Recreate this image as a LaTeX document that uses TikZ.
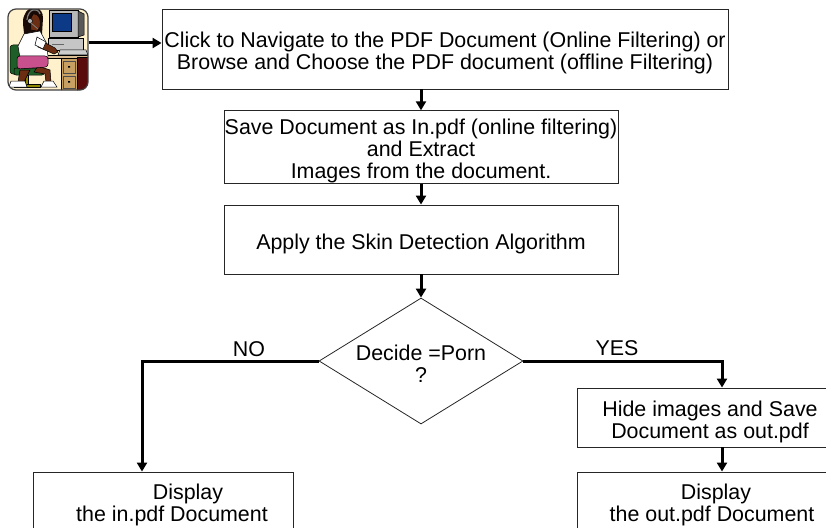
\documentclass[tikz,border=0pt]{standalone}
\usepackage{fontspec}
\setmainfont{Liberation Sans}
\usetikzlibrary{arrows.meta,shapes.geometric}
\definecolor{iconbg}{HTML}{FFF1CC}
\definecolor{skin}{HTML}{6B2E12}
\definecolor{hair}{HTML}{1A0A05}
\definecolor{skirt}{HTML}{C8508C}
\definecolor{chairgreen}{HTML}{1E5E28}
\definecolor{desktan}{HTML}{C9A063}
\definecolor{darkpanel}{HTML}{5A0C0C}
\definecolor{mongray}{HTML}{B8B8B8}
\definecolor{screenblue}{HTML}{0D3A86}
\newcommand{\tup}{\rule{0pt}{24pt}}
\begin{document}
\begin{tikzpicture}[x=1pt,y=-1pt,
  txt/.style={font=\fontsize{21.4pt}{22pt}\selectfont},
  box/.style={txt, draw=black!85, line width=0.9pt, rectangle, inner sep=0pt, align=center},
  decbox/.style={txt, draw=black!85, line width=0.8pt, diamond, aspect=1.62, inner sep=0pt,
    minimum width=204pt, minimum height=126pt, align=center},
  arr/.style={line width=3pt, -{Triangle[length=9pt,width=10pt]}},
  outl/.style={draw=black, line width=0.5pt},
  iconframe/.style={draw=black!75, line width=1.2pt, rounded corners=8pt, minimum width=80pt, minimum height=81pt, inner sep=0pt}]
\useasboundingbox (0,0) rectangle (826,527);
\clip (0,0) rectangle (826,527);

% ---------- icon (person at computer) ----------
\begin{scope}
  \clip[rounded corners=8pt] (8,9) rectangle (88,90);
  \fill[iconbg] (8,9) rectangle (88,90);
  % monitor
  \fill[mongray, outl] (49,10) rectangle (78,37);
  \fill[gray!70!black, outl] (78,11) -- (84,14) -- (84,35) -- (78,37) -- cycle;
  \fill[screenblue, outl] (52,13) rectangle (71,31);
  % computer base
  \fill[mongray!80, outl] (48,38) rectangle (83,50);
  \draw[black!60, line width=0.4pt] (52,44) -- (64,44);
  % keyboard
  \fill[gray!40, outl] (60,50) -- (86,50) -- (88,55) -- (58,55) -- cycle;
  % desk top
  \fill[desktan!70, outl] (44,55) rectangle (88,58);
  % drawers
  \fill[desktan, outl] (61,58) rectangle (77,92);
  \draw[black!70, line width=0.5pt] (63,61) rectangle (75,73) (63,76) rectangle (75,88);
  \fill[black] (68,66) rectangle (70,67.5) (68,81) rectangle (70,82.5);
  % dark side panel
  \fill[darkpanel, outl] (77,57) rectangle (89,92);
  % chair
  \fill[chairgreen, outl, rounded corners=3pt] (10,45) rectangle (22,74);
  \fill[chairgreen, outl, rounded corners=2pt] (14,68) rectangle (44,75);
  \fill[olive, outl] (25,75) rectangle (28,84);
  \fill[olive, outl] (14,84) rectangle (40,87);
  % hair (behind)
  \fill[hair] (26,12) .. controls (32,4) and (43,7) .. (43,18) -- (42,34) -- (25,42) -- (23,24) .. controls (23,18) .. (26,12);
  % legs
  \fill[skin, outl] (38,66) -- (50,70) -- (51,82) -- (46,82) -- (45,74) -- (34,72) -- cycle;
  \fill[skin, outl] (20,70) -- (30,70) -- (24,82) -- (18,82) -- cycle;
  % shoes
  \fill[white, outl] (44,81) -- (53,81) -- (57,87) -- (41,87) -- cycle;
  \fill[white, outl] (11,81) -- (25,81) -- (27,87) -- (9,87) -- cycle;
  % shirt
  \fill[white, outl] (24,34) -- (40,31) -- (47,44) -- (48,58) -- (20,58) -- (18,46) -- cycle;
  % arm
  \fill[skin, outl] (40,40) -- (55,48) -- (58,52) -- (54,54) -- (38,47) -- cycle;
  \fill[white, outl] (37,37) -- (46,42) -- (43,49) -- (35,45) -- cycle;
  % skirt
  \fill[skirt, outl, rounded corners=3pt] (17,56) -- (48,56) -- (48,67) -- (17,69) -- cycle;
  % face
  \fill[skin, outl] (33,14) .. controls (40,14) and (41,20) .. (40,27) -- (37,31) -- (31,30) -- (30,20) -- cycle;
  % headset
  \draw[gray, line width=1.2pt] (27,20) .. controls (28,8) and (38,7) .. (40,14);
  \fill[gray!60, outl] (30,21) circle (2.5pt);
  \draw[gray, line width=0.8pt] (31,23) -- (38,29);
\end{scope}
\node[iconframe] (icon) at (48,49.5) {};

% ---------- boxes ----------
\node[box, minimum width=566pt, minimum height=80pt] (b1) at (445,49)
  {\tup Click to Navigate to the PDF Document (Online Filtering) or\\Browse and Choose the PDF document (offline Filtering)};
\node[box, minimum width=394pt, minimum height=70pt] (b2) at (421,147)
  {\tup Save Document as In.pdf (online filtering)\\and Extract\\Images from the document.};
\node[box, minimum width=394pt, minimum height=69pt] (b3) at (421,239.5)
  {\tup Apply the Skin Detection Algorithm};
\node[decbox] (dec) at (421,361) {\rule{0pt}{20pt}Decide =Porn\\?};
\node[box, minimum width=260pt, minimum height=62pt] (b4) at (163,503)
  {\rule{0pt}{20pt}\hspace*{50pt}Display\\\hspace*{18pt}the in.pdf Document};
\node[box, minimum width=266pt, minimum height=59pt] (b5) at (710,417.5)
  {\tup Hide images and Save\\Document as out.pdf};
\node[box, minimum width=266pt, minimum height=62pt] (b6) at (710,503)
  {\rule{0pt}{20pt}\hspace*{12pt}Display\\\hspace*{4pt}the out.pdf Document};

% ---------- labels ----------
\node[txt] (no) at (249,349) {NO};
\node[txt] (yes) at (617,348) {YES};

% ---------- connectors ----------
\draw[arr] ([yshift=6.5pt]icon.east) -- ([yshift=6.5pt]icon.east -| b1.west);
\draw[arr] (b2.north |- b1.south) -- (b2.north);
\draw[arr] (b2.south) -- (b3.north);
\draw[arr] (b3.south) -- (dec.north);
\draw[arr] (dec.west) -| ([xshift=-21pt]b4.north);
\draw[arr] (dec.east) -| ([xshift=12pt]b5.north);
\draw[arr] ([xshift=12pt]b5.south) -- ([xshift=12pt]b6.north);
\end{tikzpicture}
\end{document}
